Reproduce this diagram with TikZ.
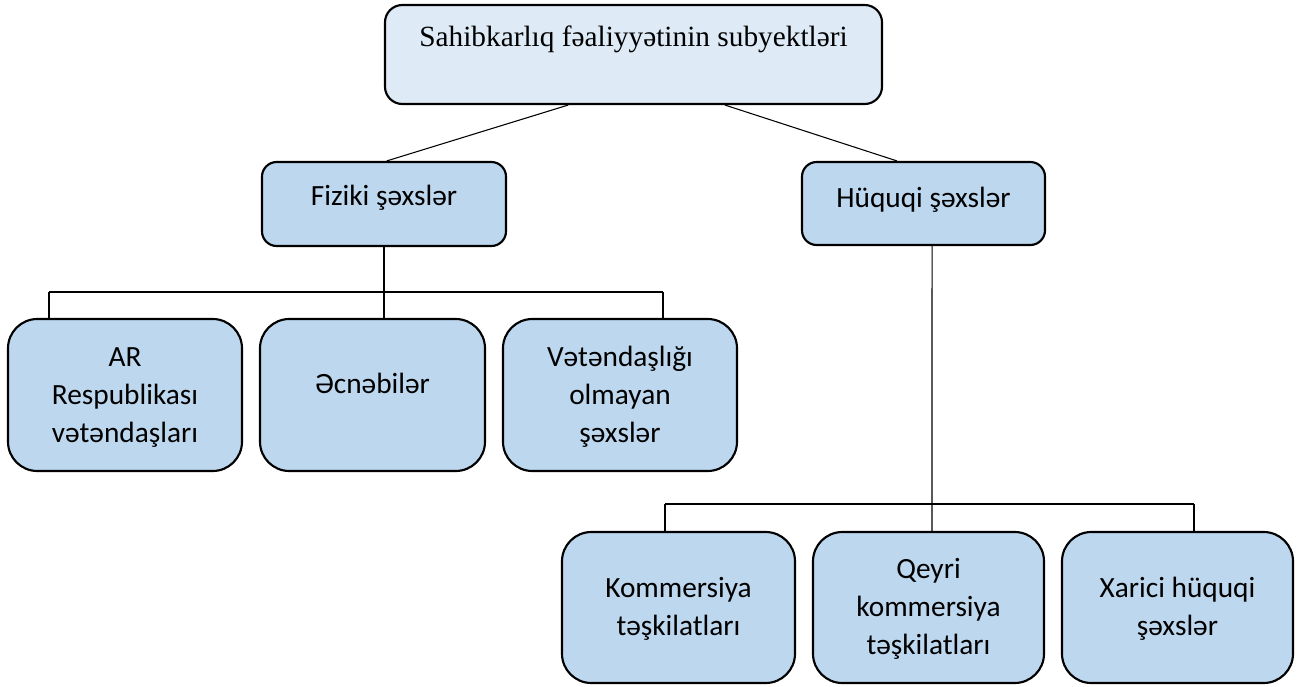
\documentclass[tikz,border=0pt]{standalone}
\usepackage{fontspec}
\setmainfont{Carlito}
\newfontfamily\seriffont{Liberation Serif}
\definecolor{boxblue}{HTML}{BDD7EE}
\definecolor{topblue}{HTML}{DEEBF7}
\begin{document}
\begin{tikzpicture}[x=0.75pt,y=-0.75pt,
  box/.style n args={3}{draw=black, line width=1.6pt, fill=boxblue, rounded corners=#3,
    minimum width=#1*0.75pt, minimum height=#2*0.75pt, inner sep=0pt},
  txt/.style={font=\fontsize{22}{28.5}\selectfont, align=center, inner sep=0pt, anchor=base},
  link/.style={draw=black, line width=0.8pt}]
\useasboundingbox (0,0) rectangle (1307,686);
% boxes
\node[box={497}{99}{13pt}, fill=topblue] (top) at (633.5,54.5) {};
\node[box={244}{84}{11pt}] (fiz) at (384,204) {};
\node[box={243}{83}{11pt}] (huq) at (923.5,203.5) {};
\node[box={234}{152}{22pt}] (ar) at (125,395) {};
\node[box={225}{152}{22pt}] (ecn) at (372.5,395) {};
\node[box={234}{152}{22pt}] (vet) at (620,395) {};
\node[box={233}{151}{22pt}] (kom) at (678.5,607.5) {};
\node[box={231}{151}{22pt}] (qey) at (928.5,607.5) {};
\node[box={231}{151}{22pt}] (xar) at (1177.5,607.5) {};
% texts (base anchor = baseline of the last line)
\node[txt, font=\seriffont\fontsize{22}{26}\selectfont] (ttop) at (633.5,46) {Sahibkarlıq fəaliyyətinin subyektləri};
\node[txt] (tfiz) at (384,205) {Fiziki şəxslər};
\node[txt] (thuq) at (923.5,207) {Hüquqi şəxslər};
\node[txt] (tar) at (125,442) {AR\\Respublikası\\vətəndaşları};
\node[txt] (tecn) at (372.5,393) {Əcnəbilər};
\node[txt] (tvet) at (620,442) {Vətəndaşlığı\\olmayan\\şəxslər};
\node[txt] (tkom) at (678.5,635) {Kommersiya\\təşkilatları};
\node[txt] (tqey) at (928.5,654) {Qeyri\\kommersiya\\təşkilatları};
\node[txt] (txar) at (1177.5,635) {Xarici hüquqi\\şəxslər};
% connectors
\draw[link] ([xshift=-49pt]top.south) -- ([xshift=2pt]fiz.north);
\draw[link] ([xshift=68.6pt]top.south) -- ([xshift=-19.9pt]huq.north);
\coordinate (bl) at (49,292);
\coordinate (br) at (663,292);
\draw[link] (fiz.south) -- (fiz.south |- ecn.north);
\draw[link] (bl) -- (br);
\draw[link] (bl) -- (bl |- ar.north);
\draw[link] (br) -- (br |- vet.north);
\coordinate (hl) at (665,504);
\coordinate (hr) at (1194,504);
\draw[link] ([xshift=6.4pt]huq.south) -- ([xshift=2.6pt]qey.north);
\draw[link] (hl) -- (hr);
\draw[link] (hl) -- (hl |- kom.north);
\draw[link] (hr) -- (hr |- xar.north);
\end{tikzpicture}
\end{document}
